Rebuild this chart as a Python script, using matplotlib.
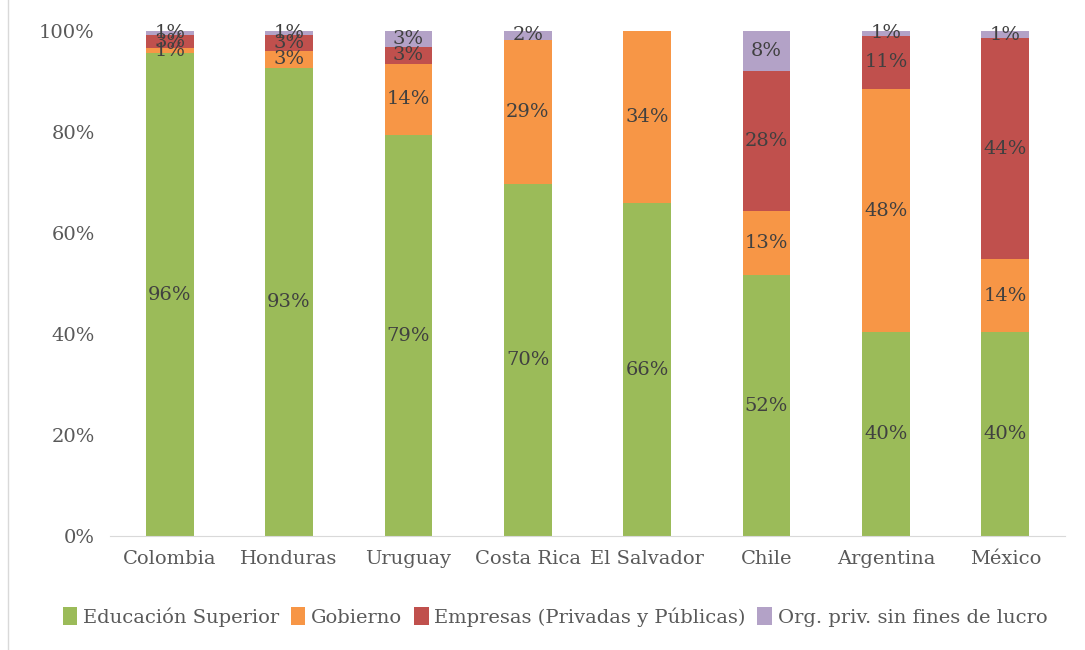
import numpy as np
import matplotlib
matplotlib.use("Agg")
import matplotlib.pyplot as plt
from matplotlib.lines import Line2D

plt.rcParams['font.family'] = ['DejaVu Serif']

paises = ["Colombia", "Honduras", "Uruguay", "Costa Rica", "El Salvador",
          "Chile", "Argentina", "México"]

# porcentaje del gasto en I+D por sector de ejecución
educacion = [95.6, 92.7, 79.4, 69.7, 65.9, 51.6, 40.4, 40.4]
gobierno = [1.0, 3.4, 14.1, 28.6, 34.1, 12.8, 48.1, 14.4]
empresas = [2.6, 3.1, 3.3, 0.0, 0.0, 27.6, 10.6, 43.8]
org_priv = [0.8, 0.8, 3.2, 1.7, 0.0, 8.0, 0.9, 1.4]

series = [
    ("Educación Superior", educacion, "#9BBB59"),
    ("Gobierno", gobierno, "#F79646"),
    ("Empresas (Privadas y Públicas)", empresas, "#C0504D"),
    ("Org. priv. sin fines de lucro", org_priv, "#B3A2C7"),
]

fig = plt.figure(figsize=(10.85, 6.5), dpi=100)
ax = fig.add_axes([110 / 1085, 1 - 536 / 650, 955 / 1085, 505 / 650])

x = np.arange(len(paises))
totales = np.sum([s[1] for s in series], axis=0)
base = np.zeros(len(paises))
for nombre, vals, color in series:
    vals = np.array(vals) / totales
    ax.bar(x, vals, 0.4, bottom=base, color=color, label=nombre, zorder=2)
    for xi, v, b in zip(x, vals, base):
        if v > 0:
            ax.text(xi, b + v / 2, f"{v * 100:.0f}%", ha="center", va="center",
                    fontsize=14, color="#404040", zorder=3)
    base = base + vals

ax.set_xlim(-0.5, len(paises) - 0.5)
ax.set_ylim(0, 1)
ax.set_yticks(np.arange(0, 1.01, 0.2))
ax.set_yticklabels([f"{int(t * 100)}%" for t in np.arange(0, 1.01, 0.2)])
ax.set_xticks(x)
ax.set_xticklabels(paises)
ax.tick_params(axis="both", length=0, labelsize=14, colors="#595959")
ax.tick_params(axis="y", pad=11)
ax.tick_params(axis="x", pad=10)
for lado in ["top", "right", "left"]:
    ax.spines[lado].set_visible(False)
ax.spines["bottom"].set_color("#D9D9D9")

# borde izquierdo del área del gráfico
fig.add_artist(Line2D([8 / 1085, 8 / 1085], [0, 1], color="#D9D9D9", lw=1))

fig.legend(loc="center", bbox_to_anchor=(555 / 1085, 1 - 617 / 650), ncol=4,
           frameon=False, fontsize=14, handlelength=0.75, handleheight=1.0,
           handletextpad=0.3, columnspacing=0.6, labelcolor="#595959")

fig.savefig("out.png", dpi=100)
